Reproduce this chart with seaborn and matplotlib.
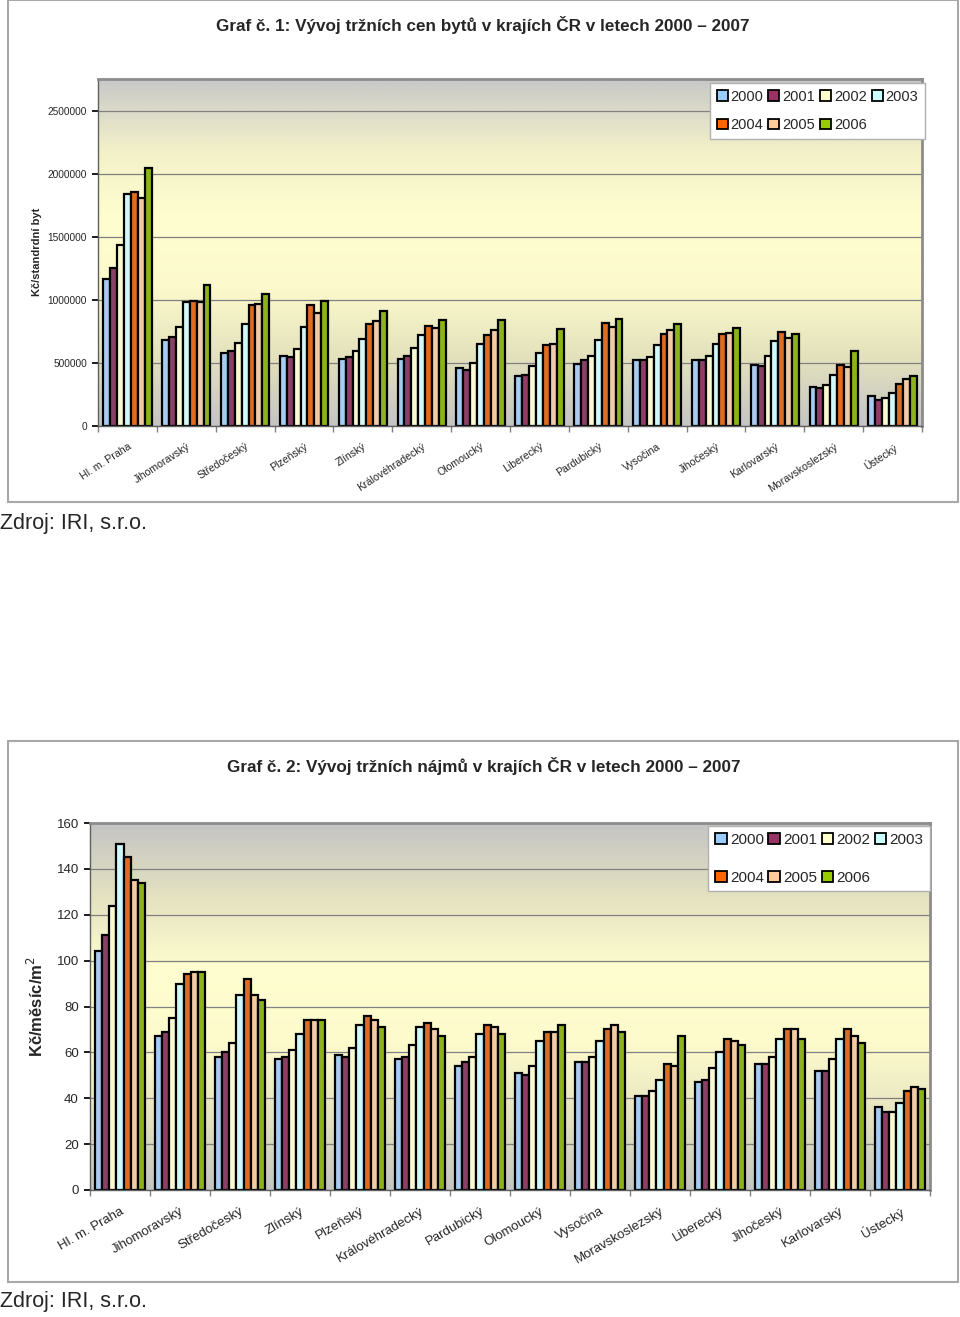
import numpy as np
import pandas as pd
import matplotlib
matplotlib.use('Agg')
import matplotlib.pyplot as plt
import seaborn as sns
from matplotlib.colors import LinearSegmentedColormap
from matplotlib.patches import Rectangle, Patch

sns.set_theme(style='white')
plt.rcParams['font.family'] = ['Liberation Sans', 'DejaVu Sans']

years = ['2000', '2001', '2002', '2003', '2004', '2005', '2006']
colors = ['#99ccff', '#993366', '#ffffcc', '#ccffff', '#ff6600', '#ffcc99', '#99cc00']

# --- graf 1: ceny bytu (Kc/standardni byt)
kraje_ceny = ['Hl. m. Praha', 'Jihomoravský', 'Středočeský', 'Plzeňský', 'Zlínský',
              'Královéhradecký', 'Olomoucký', 'Liberecký', 'Pardubický', 'Vysočina',
              'Jihočeský', 'Karlovarský', 'Moravskoslezský', 'Ústecký']
ceny_2000 = [1164000, 683000, 579000, 558000, 529000, 532000, 460000, 399000, 495000, 526000, 521000, 482000, 310000, 241000]
ceny_2001 = [1254000, 704000, 598000, 545000, 545000, 556000, 442000, 407000, 521000, 521000, 521000, 476000, 299000, 209000]
ceny_2002 = [1434000, 783000, 661000, 609000, 593000, 622000, 503000, 479000, 553000, 545000, 556000, 553000, 325000, 220000]
ceny_2003 = [1841000, 984000, 810000, 786000, 693000, 725000, 651000, 579000, 680000, 643000, 651000, 672000, 405000, 262000]
ceny_2004 = [1852000, 987000, 958000, 958000, 812000, 791000, 720000, 638000, 820000, 730000, 733000, 743000, 487000, 331000]
ceny_2005 = [1807000, 979000, 968000, 894000, 833000, 775000, 762000, 646000, 788000, 759000, 735000, 701000, 471000, 371000]
ceny_2006 = [2043000, 1119000, 1048000, 987000, 915000, 844000, 844000, 765000, 849000, 812000, 773000, 728000, 598000, 397000]
ceny_ticks = [0, 500000, 1000000, 1500000, 2000000, 2500000]

# --- graf 2: najmy (Kc/mesic/m2)
kraje_najmy = ['Hl. m. Praha', 'Jihomoravský', 'Středočeský', 'Zlínský', 'Plzeňský',
               'Královéhradecký', 'Pardubický', 'Olomoucký', 'Vysočina', 'Moravskoslezský',
               'Liberecký', 'Jihočeský', 'Karlovarský', 'Ústecký']
najmy_2000 = [104, 67, 58, 57, 59, 57, 54, 51, 56, 41, 47, 55, 52, 36]
najmy_2001 = [111, 69, 60, 58, 58, 58, 56, 50, 56, 41, 48, 55, 52, 34]
najmy_2002 = [124, 75, 64, 61, 62, 63, 58, 54, 58, 43, 53, 58, 57, 34]
najmy_2003 = [151, 90, 85, 68, 72, 71, 68, 65, 65, 48, 60, 66, 66, 38]
najmy_2004 = [145, 94, 92, 74, 76, 73, 72, 69, 70, 55, 66, 70, 70, 43]
najmy_2005 = [135, 95, 85, 74, 74, 70, 71, 69, 72, 54, 65, 70, 67, 45]
najmy_2006 = [134, 95, 83, 74, 71, 67, 68, 72, 69, 67, 63, 66, 64, 44]
najmy_ticks = [0, 20, 40, 60, 80, 100, 120, 140, 160]

W, H = 960, 1317
fig = plt.figure(figsize=(W / 100, H / 100), dpi=100)

def fx(px):
    return px / W

def fy(py):
    return 1 - py / H

def long_table(kraje, series):
    rows = []
    for rok, vals in zip(years, series):
        for k, v in zip(kraje, vals):
            rows.append({'kraj': k, 'rok': rok, 'hodnota': v})
    return pd.DataFrame(rows)

def background(ax, stops):
    cmap = LinearSegmentedColormap.from_list('bg', stops)
    grad = np.linspace(0, 1, 256).reshape(-1, 1)
    ax.imshow(grad, cmap=cmap, aspect='auto', extent=(0, 1, 0, 1),
              transform=ax.transAxes, origin='lower', zorder=0)

def chart(ax, kraje, series, ticks, ymax, tick_fs, lab_fs, rot, stops):
    df = long_table(kraje, series)
    background(ax, stops)
    sns.barplot(data=df, x='kraj', y='hodnota', hue='rok', order=kraje,
                hue_order=years, palette=colors, edgecolor='black',
                linewidth=1.6, width=0.82, legend=False, ax=ax, zorder=2)
    n = len(kraje)
    ax.set_xlim(-0.5, n - 0.5)
    ax.set_ylim(0, ymax)
    ax.set_yticks(ticks)
    ax.set_yticklabels([str(t) for t in ticks], fontsize=tick_fs)
    ax.set_xticks(range(n))
    ax.set_xticklabels(kraje, rotation=rot, ha='right', rotation_mode='anchor',
                       fontsize=lab_fs)
    ax.set_xticks(np.arange(-0.5, n), minor=True)
    ax.tick_params(axis='x', which='major', length=0, pad=11)
    ax.tick_params(axis='x', which='minor', length=4, color='#808080', direction='out', bottom=True)
    ax.tick_params(axis='y', length=4, color='black', direction='out', left=True, pad=4)
    ax.set_xlabel('')
    ax.set_ylabel('')
    ax.yaxis.grid(True, color='#808080', lw=0.9)
    ax.set_axisbelow(True)
    for s in ['top', 'right']:
        ax.spines[s].set_color('#8c8c8c')
        ax.spines[s].set_linewidth(2)
    for s in ['left', 'bottom']:
        ax.spines[s].set_color('#606060')
        ax.spines[s].set_linewidth(1)

def legend(ax, anchor, fs, spacing, colsp):
    handles = [Patch(facecolor=c, edgecolor='black', lw=1.3) for c in colors]
    order = [0, 4, 1, 5, 2, 6, 3]
    leg = ax.legend([handles[i] for i in order], [years[i] for i in order],
                    loc='upper right', bbox_to_anchor=anchor, bbox_transform=fig.transFigure,
                    ncol=4, fancybox=False, framealpha=1, edgecolor='#b0b0b0',
                    handlelength=0.75, handleheight=0.75, handletextpad=0.2,
                    columnspacing=colsp, labelspacing=spacing, fontsize=fs,
                    borderpad=0.45, borderaxespad=0)
    leg.get_frame().set_linewidth(1)
    leg.set_zorder(5)

# frames of both charts
fig.patches.append(Rectangle((fx(8), fy(502)), fx(950), 502 / H, transform=fig.transFigure,
                             fill=False, edgecolor='#a8a8a8', lw=1.5))
fig.patches.append(Rectangle((fx(8), fy(1282)), fx(950), 541 / H, transform=fig.transFigure,
                             fill=False, edgecolor='#a8a8a8', lw=1.5))

# graf 1
ax1 = fig.add_axes([fx(98), fy(426), fx(922 - 98), (426 - 79) / H])
chart(ax1, kraje_ceny, [ceny_2000, ceny_2001, ceny_2002, ceny_2003, ceny_2004, ceny_2005, ceny_2006],
      ceny_ticks, 2750000, 7.3, 7.6, 33,
      ['#c4c4c4', '#e4e2bc', '#fcfacc', '#fffed0', '#f2f0c8', '#c8c8c8'])
legend(ax1, (fx(925), fy(83)), 10.5, 1.0, 0.35)
fig.text(fx(483), fy(25), 'Graf č. 1: Vývoj tržních cen bytů v krajích ČR v letech 2000 – 2007',
         ha='center', va='center', fontsize=12.3, fontweight='bold')
fig.text(fx(37), fy(252), 'Kč/standrdní byt', rotation=90, ha='center', va='center',
         fontsize=8, fontweight='bold')
fig.text(0, fy(524), 'Zdroj: IRI, s.r.o.', ha='left', va='center', fontsize=15.5)

# graf 2
ax2 = fig.add_axes([fx(90), fy(1190), fx(930 - 90), (1190 - 823) / H])
chart(ax2, kraje_najmy, [najmy_2000, najmy_2001, najmy_2002, najmy_2003, najmy_2004, najmy_2005, najmy_2006],
      najmy_ticks, 160, 9.5, 9.5, 30,
      ['#c4c4c4', '#e6e4c0', '#fdfbcc', '#fffed0', '#e4e2c0', '#c4c4c4'])
legend(ax2, (fx(930), fy(826)), 11, 1.55, 0.3)
fig.text(fx(484), fy(766), 'Graf č. 2: Vývoj tržních nájmů v krajích ČR v letech 2000 – 2007',
         ha='center', va='center', fontsize=12.3, fontweight='bold')
fig.text(fx(36), fy(1007), 'Kč/měsíc/m$^2$', rotation=90, ha='center', va='center',
         fontsize=12, fontweight='bold')
fig.text(0, fy(1302), 'Zdroj: IRI, s.r.o.', ha='left', va='center', fontsize=15.5)

fig.savefig('out.png', dpi=100, facecolor='white')
